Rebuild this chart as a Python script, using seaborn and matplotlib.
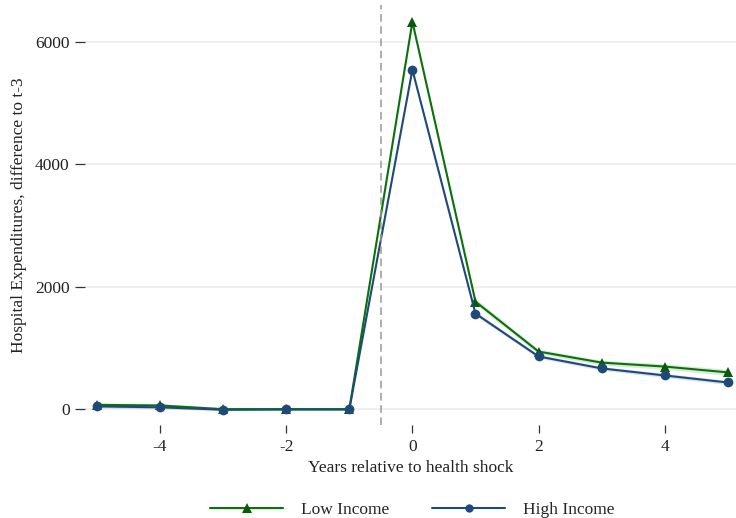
import numpy as np
import pandas as pd
import seaborn as sns
from matplotlib import pyplot as plt
from matplotlib.lines import Line2D

years = [-5, -4, -3, -2, -1, 0, 1, 2, 3, 4, 5]
low_income = [75, 65, 5, 5, 5, 6330, 1760, 945, 765, 700, 605]
high_income = [50, 35, -5, 0, 0, 5545, 1565, 865, 670, 555, 440]
low_band = [30, 30, 20, 20, 20, 40, 45, 40, 40, 45, 50]
high_band = [25, 25, 15, 15, 15, 35, 35, 30, 30, 35, 35]

green = "#0b720b"
green_dark = "#0a5a0a"
blue = "#1f4a78"

df = pd.DataFrame({
    "year": years * 2,
    "value": low_income + high_income,
    "group": ["Low Income"] * len(years) + ["High Income"] * len(years),
})

sns.set_style("white")
plt.rcParams["font.family"] = ["Liberation Serif", "DejaVu Serif"]
plt.rcParams["axes.unicode_minus"] = False

fig = plt.figure(figsize=(7.36, 5.18), dpi=100)
ax = fig.add_axes([0.1155, 0.18, 0.8845, 0.81])

ax.fill_between(years, np.array(low_income) - low_band, np.array(low_income) + low_band,
                color=green, alpha=0.15, linewidth=0)
ax.fill_between(years, np.array(high_income) - high_band, np.array(high_income) + high_band,
                color=blue, alpha=0.15, linewidth=0)

sns.lineplot(data=df, x="year", y="value", hue="group", style="group",
             palette={"Low Income": green, "High Income": blue},
             markers={"Low Income": "^", "High Income": "o"}, dashes=False,
             markersize=7, linewidth=1.5, markeredgewidth=0, legend=False, ax=ax)
for line in ax.get_lines():
    if line.get_color() == green:
        line.set_markerfacecolor(green_dark)

ax.axvline(-0.5, color="#999999", linestyle=(0, (5, 3)), linewidth=1.1)

ax.set_xlim(-5.19, 5.13)
ax.set_ylim(-250, 6600)
ax.set_xticks([-4, -2, 0, 2, 4])
ax.set_yticks([0, 2000, 4000, 6000])
ax.yaxis.grid(True, color="#e9eef1", linewidth=1.2)
ax.set_axisbelow(True)
for s in ax.spines.values():
    s.set_visible(False)
ax.tick_params(axis="both", which="both", direction="out", length=6, width=0.9,
               color="#333333", labelsize=12.5, labelcolor="#222222", pad=4,
               bottom=True, left=True)
ax.tick_params(axis="y", length=7)
ax.set_xlabel("Years relative to health shock", fontsize=12.5, color="#222222", labelpad=4)
ax.set_ylabel("Hospital Expenditures, difference to t-3", fontsize=12.5, color="#222222", labelpad=6)

handles = [
    Line2D([], [], color=green, marker="^", markerfacecolor=green_dark, markeredgewidth=0, markersize=7, linewidth=1.5),
    Line2D([], [], color=blue, marker="o", markeredgewidth=0, markersize=6, linewidth=1.5),
]
fig.legend(handles, ["Low Income", "High Income"], loc="lower center", ncol=2,
           bbox_to_anchor=(0.56, -0.03), frameon=False, fontsize=12.5,
           handlelength=4.2, columnspacing=2.5, handletextpad=1.0)

fig.savefig("out.png", dpi=100)
